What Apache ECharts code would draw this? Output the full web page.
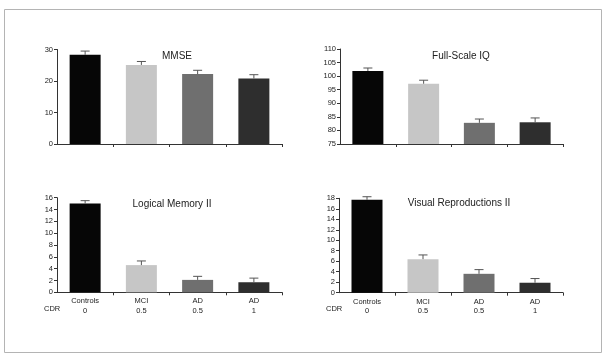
<!DOCTYPE html>
<html>
<head>
<meta charset="utf-8">
<script src="https://cdn.jsdelivr.net/npm/echarts@6/dist/echarts.min.js"></script>
<style>
  html, body { margin: 0; padding: 0; background: #fff; }
  #chart { width: 611px; height: 358px; }
</style>
</head>
<body>
<div id="chart"></div>
<script>
// groups on the x axis
var groups = ['Controls\n0', 'MCI\n0.5', 'AD\n0.5', 'AD\n1'];
var barColors = ['#060606', '#c6c6c6', '#6f6f6f', '#2e2e2e'];

// panel titles
var titles = ['MMSE', 'Full-Scale IQ', 'Logical Memory II', 'Visual Reproductions II'];

// means and upper error bar ends
var mmse = [28.3, 25.1, 22.2, 20.8];
var mmseErr = [29.5, 26.2, 23.4, 22.0];
var iq = [101.9, 97.2, 82.8, 83.0];
var iqErr = [103.0, 98.5, 84.2, 84.6];
var logMem = [15.0, 4.6, 2.1, 1.7];
var logMemErr = [15.5, 5.3, 2.7, 2.4];
var visRep = [17.7, 6.4, 3.6, 1.9];
var visRepErr = [18.3, 7.2, 4.4, 2.7];

// y axis scales
var yMin = [0, 75, 0, 0];
var yMax = [30, 110, 16, 18];
var yStep = [10, 5, 2, 2];

var means = [mmse, iq, logMem, visRep];
var errs = [mmseErr, iqErr, logMemErr, visRepErr];

var grids = [
  { left: 57, top: 49.5, width: 225, height: 94.5 },
  { left: 340, top: 49, width: 223, height: 95 },
  { left: 57, top: 197.7, width: 225, height: 94.6 },
  { left: 339, top: 198.3, width: 224, height: 94.4 }
];
var titlePos = [[172, 46], [456, 46], [167, 194], [454, 193]];

var font = 'Liberation Sans, Arial, sans-serif';
var axisColor = '#333';

var chart = echarts.init(document.getElementById('chart'));

var xAxes = [], yAxes = [], series = [], titleList = [];
for (var i = 0; i < 4; i++) {
  var showLabels = i >= 2;
  xAxes.push({
    type: 'category',
    gridIndex: i,
    data: groups,
    axisLine: { lineStyle: { color: axisColor, width: 1 } },
    axisTick: {
      show: true,
      length: 3,
      lineStyle: { color: axisColor },
      // only the ticks between groups
      interval: function (idx) { return idx > 0 && idx < groups.length; }
    },
    axisLabel: {
      show: showLabels,
      interval: 0,
      margin: 4,
      fontFamily: font,
      fontSize: 7.5,
      lineHeight: 9.5,
      color: '#222'
    }
  });
  yAxes.push({
    type: 'value',
    gridIndex: i,
    min: yMin[i],
    max: yMax[i],
    interval: yStep[i],
    splitLine: { show: false },
    axisLine: { show: true, lineStyle: { color: axisColor, width: 1 } },
    axisTick: { show: true, length: 3, lineStyle: { color: axisColor } },
    axisLabel: { margin: 4, fontFamily: font, fontSize: 7.5, color: '#222' }
  });
  series.push({
    type: 'bar',
    xAxisIndex: i,
    yAxisIndex: i,
    barWidth: 31,
    data: means[i].map(function (v, k) {
      return { value: v, itemStyle: { color: barColors[k] } };
    })
  });
  series.push({
    type: 'custom',
    xAxisIndex: i,
    yAxisIndex: i,
    z: 3,
    data: means[i].map(function (v, k) { return [k, v, errs[i][k]]; }),
    renderItem: function (params, api) {
      var base = api.coord([api.value(0), api.value(1)]);
      var top = api.coord([api.value(0), api.value(2)]);
      var half = 4.5;
      var st = { stroke: '#555', lineWidth: 1 };
      return {
        type: 'group',
        children: [
          { type: 'line', shape: { x1: base[0], y1: base[1], x2: top[0], y2: top[1] }, style: st },
          { type: 'line', shape: { x1: top[0] - half, y1: top[1], x2: top[0] + half, y2: top[1] }, style: st }
        ]
      };
    }
  });
  titleList.push({
    text: titles[i],
    left: titlePos[i][0],
    top: titlePos[i][1],
    textAlign: 'center',
    textStyle: { fontFamily: font, fontSize: 10, fontWeight: 'normal', color: '#222' }
  });
}

chart.setOption({
  animation: false,
  title: titleList,
  grid: grids,
  xAxis: xAxes,
  yAxis: yAxes,
  series: series,
  graphic: [
    {
      type: 'rect',
      shape: { x: 4.5, y: 9.5, width: 597, height: 343 },
      style: { fill: 'none', stroke: '#b4b4b4', lineWidth: 1 }
    },
    {
      type: 'text',
      left: 44,
      top: 305,
      style: { text: 'CDR', font: '7.5px ' + font, fill: '#222' }
    },
    {
      type: 'text',
      left: 326,
      top: 305,
      style: { text: 'CDR', font: '7.5px ' + font, fill: '#222' }
    }
  ]
});
</script>
</body>
</html>
